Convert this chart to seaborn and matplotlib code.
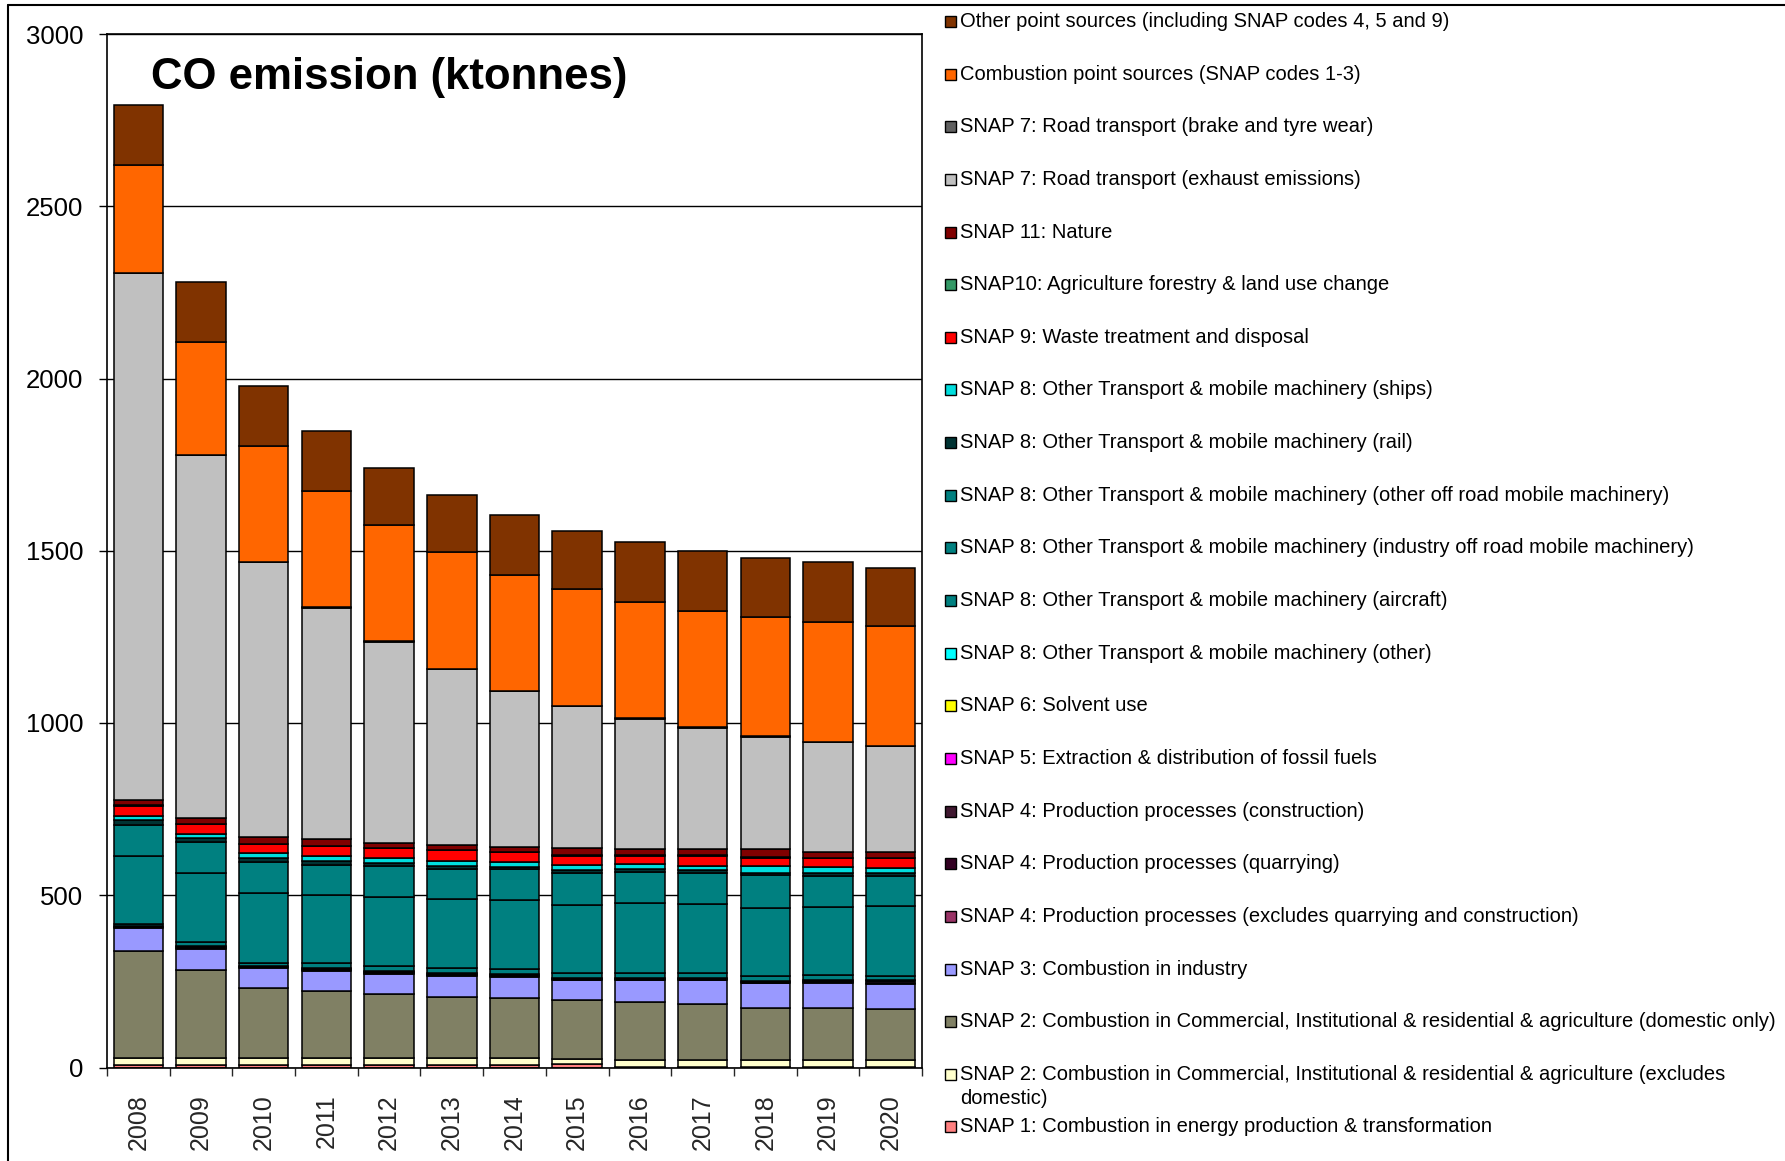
import numpy as np
import pandas as pd
import matplotlib
matplotlib.use("Agg")
import matplotlib.pyplot as plt
import seaborn as sns
from matplotlib.patches import Rectangle
from matplotlib.lines import Line2D

# ---------------- data (ktonnes) ----------------
years = [2008, 2009, 2010, 2011, 2012, 2013, 2014, 2015, 2016, 2017, 2018, 2019, 2020]

snap1_energy = [8, 8, 8, 8, 8, 8, 8, 10, 2, 2, 2, 2, 2]
snap2_excl_domestic = [21, 19, 20, 20, 20, 20, 20, 14, 20, 20, 20, 20, 20]
snap2_domestic = [308, 256, 202, 193, 186, 177, 174, 172, 167, 161, 152, 150, 148]
snap3_industry = [68, 62, 59, 60, 58, 61, 61, 57, 64, 70, 70, 74, 72]
snap4_excl = [2, 2, 2, 2, 2, 2, 2, 2, 2, 2, 2, 2, 2]
snap4_quarrying = [1, 1, 1, 1, 1, 1, 1, 1, 1, 1, 1, 1, 1]
snap4_construction = [1, 1, 1, 1, 1, 1, 1, 1, 1, 1, 1, 1, 6]
snap5_fossil = [1, 1, 1, 1, 1, 1, 1, 1, 1, 1, 1, 1, 1]
snap6_solvent = [1, 1, 1, 1, 1, 1, 1, 1, 1, 1, 1, 1, 1]
snap8_other = [1, 1, 1, 1, 1, 1, 1, 1, 1, 1, 1, 1, 1]
snap8_aircraft = [5, 12, 8, 15, 16, 16, 17, 13, 15, 15, 15, 15, 12]
snap8_industry_offroad = [198, 200, 203, 199, 200, 199, 198, 198, 202, 200, 197, 199, 203]
snap8_other_offroad = [90, 90, 90, 87, 90, 89, 90, 93, 90, 90, 96, 88, 88]
snap8_rail = [12, 12, 10, 10, 8, 8, 8, 8, 8, 8, 6, 10, 8]
snap8_ships = [14, 12, 17, 16, 15, 14, 13, 16, 17, 13, 19, 17, 14]
snap9_waste = [29, 29, 24, 27, 29, 32, 29, 27, 23, 29, 25, 26, 29]
snap10_agriculture = [1, 1, 1, 1, 1, 1, 1, 1, 1, 1, 1, 1, 1]
snap11_nature = [15, 15, 19, 19, 15, 15, 15, 21, 17, 17, 23, 17, 17]
snap7_exhaust = [1529, 1054, 799, 673, 583, 509, 452, 412, 380, 353, 327, 318, 307]
snap7_brake_tyre = [1, 1, 1, 1, 1, 1, 1, 1, 1, 1, 1, 1, 1]
combustion_point = [313, 327, 337, 337, 337, 338, 336, 338, 337, 338, 348, 348, 348]
other_point = [174, 174, 174, 175, 167, 168, 174, 170, 174, 174, 169, 173, 169]

# legend order (top of stack first)
series_labels = [
    "Other point sources (including SNAP codes 4, 5 and 9)",
    "Combustion point sources (SNAP codes 1-3)",
    "SNAP 7: Road transport (brake and tyre wear)",
    "SNAP 7: Road transport (exhaust emissions)",
    "SNAP 11: Nature",
    "SNAP10: Agriculture forestry & land use change",
    "SNAP 9: Waste treatment and disposal",
    "SNAP 8: Other Transport & mobile machinery (ships)",
    "SNAP 8: Other Transport & mobile machinery (rail)",
    "SNAP 8: Other Transport & mobile machinery (other off road mobile machinery)",
    "SNAP 8: Other Transport & mobile machinery (industry off road mobile machinery)",
    "SNAP 8: Other Transport & mobile machinery (aircraft)",
    "SNAP 8: Other Transport & mobile machinery (other)",
    "SNAP 6: Solvent use",
    "SNAP 5: Extraction & distribution of fossil fuels",
    "SNAP 4: Production processes (construction)",
    "SNAP 4: Production processes (quarrying)",
    "SNAP 4: Production processes (excludes quarrying and construction)",
    "SNAP 3: Combustion in industry",
    "SNAP 2: Combustion in Commercial, Institutional & residential & agriculture (domestic only)",
    "SNAP 2: Combustion in Commercial, Institutional & residential & agriculture (excludes\ndomestic)",
    "SNAP 1: Combustion in energy production & transformation",
]
series_values = [
    other_point, combustion_point, snap7_brake_tyre, snap7_exhaust, snap11_nature,
    snap10_agriculture, snap9_waste, snap8_ships, snap8_rail, snap8_other_offroad,
    snap8_industry_offroad, snap8_aircraft, snap8_other, snap6_solvent, snap5_fossil,
    snap4_construction, snap4_quarrying, snap4_excl, snap3_industry, snap2_domestic,
    snap2_excl_domestic, snap1_energy,
]
series_colors = [
    "#803300", "#FF6600", "#606060", "#C0C0C0", "#800000",
    "#339966", "#FF0000", "#00DDDD", "#003333", "#008080",
    "#008080", "#008080", "#00FFFF", "#FFFF00", "#FF00FF",
    "#401830", "#330022", "#993366", "#9999FF", "#808064",
    "#FFFFCC", "#FF8080",
]

keys = [f"s{i:02d}" for i in range(len(series_labels))]
rows = []
for k, vals in zip(keys, series_values):
    for y, v in zip(years, vals):
        rows.append({"year": y, "series": k, "value": v})
df = pd.DataFrame(rows)

# ---------------- figure ----------------
sns.set_style("white")
plt.rcParams["font.family"] = ["Liberation Sans", "DejaVu Sans"]

W, H = 1785, 1161
fig = plt.figure(figsize=(W / 100, H / 100), dpi=100)
ax_left, ax_right, ax_top, ax_bottom = 107, 922, 34, 1067.5
ax = fig.add_axes([ax_left / W, 1 - ax_bottom / H, (ax_right - ax_left) / W, (ax_bottom - ax_top) / H])

sns.histplot(
    data=df, x="year", weights="value", hue="series", hue_order=keys,
    multiple="stack", discrete=True, shrink=0.79,
    palette=dict(zip(keys, series_colors)), alpha=1,
    edgecolor="black", linewidth=1.1, legend=False, ax=ax,
)

ax.set_xlim(2007.5, 2020.5)
ax.set_ylim(0, 3000)
ax.set_xlabel("")
ax.set_ylabel("")
ax.set_yticks(np.arange(0, 3001, 500))
ax.tick_params(axis="y", labelsize=18.5, length=6, width=1, pad=11, direction="out", left=True, colors="black")
ax.set_xticks(np.arange(2007.5, 2021, 1))
ax.set_xticklabels([])
ax.set_xticks(years, minor=True)
ax.set_xticklabels([str(y) for y in years], minor=True, rotation=90, fontsize=18)
ax.tick_params(axis="x", which="minor", length=0, pad=19)
ax.tick_params(axis="x", which="major", length=6, width=1, direction="out", bottom=True)
ax.grid(axis="y", color="black", linewidth=1.0)
ax.grid(axis="x", visible=False)
ax.set_axisbelow(True)
for side in ["left", "bottom", "top", "right"]:
    ax.spines[side].set_visible(True)
    ax.spines[side].set_color("black")
    ax.spines[side].set_linewidth(1.2)

# title inside the plot
fig.text(151 / W, 1 - 77 / H, "CO emission (ktonnes)", fontsize=31.5, fontweight="bold",
         ha="left", va="center", color="black")

# outer chart frame
fig.add_artist(Line2D([8 / W, 8 / W], [1 - 5 / H, 0], transform=fig.transFigure, color="black", lw=1.5))
fig.add_artist(Line2D([8 / W, 1], [1 - 5 / H, 1 - 5 / H], transform=fig.transFigure, color="black", lw=1.5))

# legend (drawn as a list to the right)
renderer = fig.canvas.get_renderer()
probe = fig.text(0, 0, series_labels[19], fontsize=14)
pw = probe.get_window_extent(renderer).width
probe.remove()
leg_fs = 14 * 818 / pw

row0, pitch = 21.5, 52.64
for i, (lab, col) in enumerate(zip(series_labels, series_colors)):
    yc = row0 + i * pitch
    fig.add_artist(Rectangle((945 / W, 1 - (yc + 5.5) / H), 11 / W, 11 / H,
                             transform=fig.transFigure, facecolor=col, edgecolor="black", lw=1.0))
    lines = lab.split("\n")
    for j, line in enumerate(lines):
        fig.text(960 / W, 1 - (yc + j * 24) / H, line, fontsize=leg_fs, ha="left", va="center", color="black")

fig.savefig("out.png", dpi=100)
